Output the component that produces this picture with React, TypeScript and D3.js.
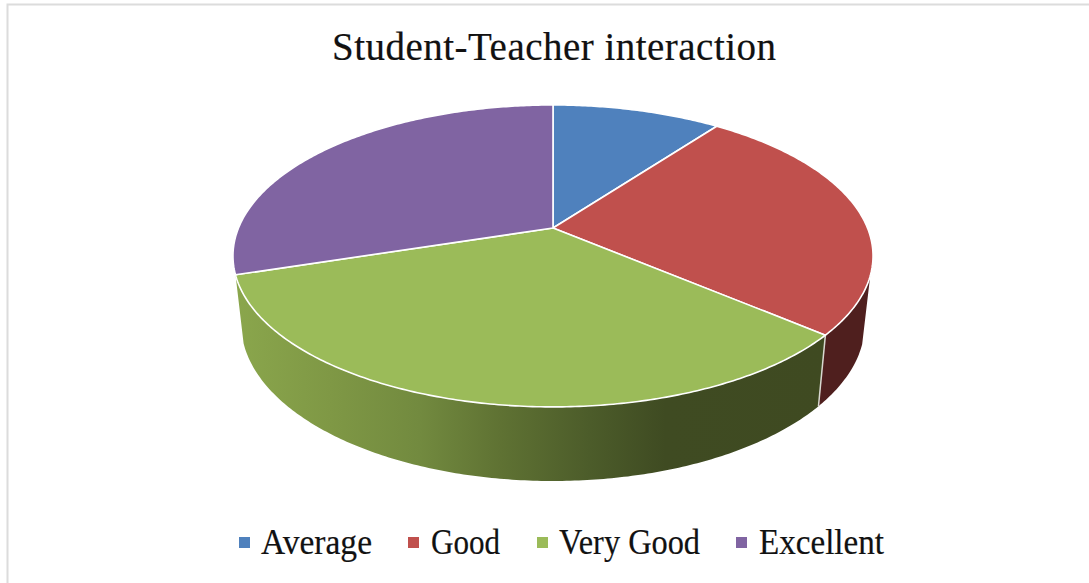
import React from "react";
import * as d3 from "d3";

const categories = ["Average", "Good", "Very Good", "Excellent"];
const values = [10.2, 26, 33.9, 29.9];
const topColors = ["#4f81bd", "#c0504d", "#9bbb59", "#8064a2"];
const wallColors = ["none", "#4f1f1e", "url(#greenWall)", "none"];
const titleText = "Student-Teacher interaction";
const legendMarkerX = [239, 408, 537, 736];
const legendTextX = [261, 431, 559, 759];
const legendTextW = [111, 69, 141, 125];
const greenStops: [number, string][] = [
  [236, "#8aa64c"],
  [330, "#7f9845"],
  [420, "#728a3f"],
  [500, "#5f7233"],
  [590, "#4c5c2a"],
  [665, "#3f4b22"],
  [826, "#3f4a21"],
];

const W = 1089;
const H = 583;
const CX = 553;
// perspective discs: top face and bottom face of the pie
const topDisc = { y: 228, a: 145.8, b: 314.5, k: 0.185 };
const botDisc = { y: 294.5, a: 152, b: 306.5, k: 0.185 };
const WALL_START = (108 * Math.PI) / 180; // right silhouette of the wall
const WALL_END = (252.3 * Math.PI) / 180; // left silhouette of the wall

type Disc = typeof topDisc;
const project = (d: Disc, t: number, r = 1): [number, number] => {
  const u = r * Math.sin(t);
  const v = -r * Math.cos(t);
  const q = 1 - d.k * v;
  return [CX + (d.b * u) / q, d.y + (d.a * v) / q];
};
const arcPts = (d: Disc, t0: number, t1: number): [number, number][] => {
  const n = Math.max(2, Math.ceil(Math.abs(t1 - t0) * 90));
  return d3.range(n + 1).map((i) => project(d, t0 + ((t1 - t0) * i) / n));
};
const line = d3.line<[number, number]>().x((p) => p[0]).y((p) => p[1]);

export default function App() {
  const arcs = d3.pie<number>().sort(null)(values);
  const walls = arcs
    .map((a, i) => ({
      i,
      t0: Math.max(a.startAngle, WALL_START),
      t1: Math.min(a.endAngle, WALL_END),
    }))
    .filter((w) => w.t1 > w.t0);
  const seam = arcs[1].endAngle;
  const x = d3.scaleLinear().domain([greenStops[0][0], greenStops[greenStops.length - 1][0]]).range([0, 1]);
  const serif = "'Liberation Serif', serif";
  return (
    <svg width={W} height={H} style={{ position: "absolute", left: 0, top: 0, display: "block", background: "#fff" }}>
      <defs>
        <linearGradient id="greenWall" gradientUnits="userSpaceOnUse" x1={greenStops[0][0]} x2={greenStops[greenStops.length - 1][0]} y1={0} y2={0}>
          {greenStops.map(([p, c]) => (
            <stop key={p} offset={x(p)} stopColor={c} />
          ))}
        </linearGradient>
      </defs>
      <path d={`M7.5,${H}V4.5H${W}`} fill="none" stroke="#dcdcdc" strokeWidth={2} />
      <text x={332} y={60} fontFamily={serif} fontSize={39} fill="#111" stroke="#111" strokeWidth={0.2} textLength={444} lengthAdjust="spacing">
        {titleText}
      </text>

      {walls.map((w) => (
        <path
          key={w.i}
          d={line([...arcPts(topDisc, w.t0, w.t1), ...arcPts(botDisc, w.t1, w.t0)])! + "Z"}
          fill={wallColors[w.i]}
        />
      ))}
      <path d={line([project(topDisc, seam), project(botDisc, seam)])!} stroke="#d8d8d0" strokeWidth={1.5} fill="none" />

      {arcs.map((a, i) => (
        <path
          key={i}
          d={line([[CX, topDisc.y], ...arcPts(topDisc, a.startAngle, a.endAngle)])! + "Z"}
          fill={topColors[i]}
          stroke="#fff"
          strokeWidth={1.6}
          strokeLinejoin="round"
        />
      ))}

      {categories.map((c, i) => (
        <g key={c}>
          <rect x={legendMarkerX[i]} y={537} width={11} height={11} fill={topColors[i]} />
          <text x={legendTextX[i]} y={554} fontFamily={serif} fontSize={35} fill="#111" stroke="#111" strokeWidth={0.2} textLength={legendTextW[i]} lengthAdjust="spacingAndGlyphs">
            {c}
          </text>
        </g>
      ))}
    </svg>
  );
}
